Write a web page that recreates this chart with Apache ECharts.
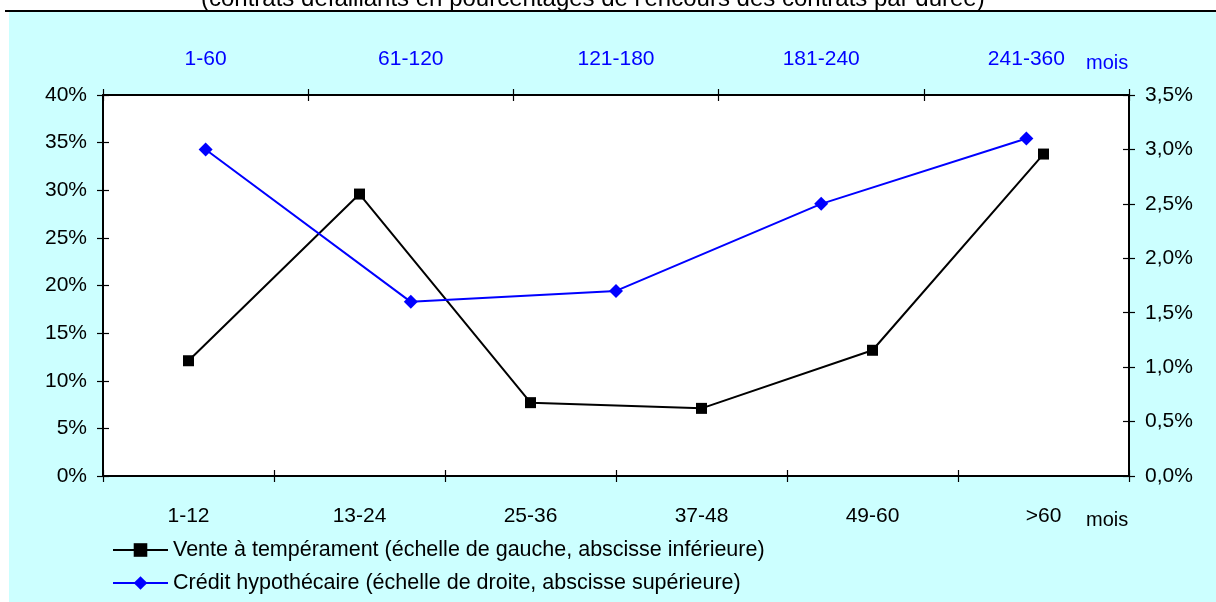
<!DOCTYPE html>
<html>
<head>
<meta charset="utf-8">
<script src="https://cdn.jsdelivr.net/npm/echarts@6/dist/echarts.min.js"></script>
<style>
  html, body { margin:0; padding:0; background:#fff; }
  #panel { position:absolute; left:9px; top:12px; width:1207px; height:590px; background:#CCFFFF; }
  #rule { position:absolute; left:5px; top:10px; width:1211px; height:2px; background:#000; }
  #chart { position:absolute; left:0; top:0; width:1216px; height:602px; }
</style>
</head>
<body>
<div id="panel"></div>
<div id="rule"></div>
<div id="chart"></div>
<script>
// ---- data ----
const titleText = "(contrats défaillants en pourcentages de l'encours des contrats par durée)";
const categoriesBottom = ['1-12', '13-24', '25-36', '37-48', '49-60', '>60'];
const categoriesTop = ['1-60', '61-120', '121-180', '181-240', '241-360'];
const venteName = 'Vente à tempérament (échelle de gauche, abscisse inférieure)';
const venteValues = [12.1, 29.6, 7.7, 7.1, 13.2, 33.8];
const creditName = 'Crédit hypothécaire (échelle de droite, abscisse supérieure)';
const creditValues = [3.0, 1.6, 1.7, 2.5, 3.1];
const axisUnit = 'mois';

const FONT = "'Liberation Sans', Arial, sans-serif";
const chart = echarts.init(document.getElementById('chart'), null, { renderer: 'canvas' });

const gridBox = { left: 103, right: 87, top: 95, bottom: 126 };
const tickStyle = { color: '#000', width: 1.2 };

function catAxis(gridIndex, data, position, inside, show, labelColor, margin) {
  return {
    type: 'category', gridIndex: gridIndex, data: data, position: position, boundaryGap: true,
    axisLine: { show: show, onZero: false, lineStyle: { color: '#000', width: 2 } },
    axisTick: { show: true, inside: inside, length: 6, lineStyle: tickStyle },
    axisLabel: { show: show, color: labelColor, fontSize: 21, fontFamily: FONT, margin: margin, interval: 0 },
    splitLine: { show: false }
  };
}
function valAxis(gridIndex, position, max, interval, inside, show, fmt) {
  return {
    type: 'value', gridIndex: gridIndex, position: position, min: 0, max: max, interval: interval,
    axisLine: { show: show, onZero: false, lineStyle: { color: '#000', width: 2 } },
    axisTick: { show: true, inside: inside, length: 6, lineStyle: tickStyle },
    axisLabel: { show: show, color: '#000', fontSize: 21, fontFamily: FONT, margin: 16, formatter: fmt },
    splitLine: { show: false }
  };
}
function legendFor(name, top) {
  return {
    orient: 'horizontal', left: 112, top: top, padding: 0,
    itemWidth: 55, itemHeight: 17,
    textStyle: { fontSize: 21.5, color: '#000', fontFamily: FONT },
    data: [name]
  };
}

const option = {
  backgroundColor: 'transparent',
  animation: false,
  title: {
    text: titleText, left: 196, top: -18,
    textStyle: { fontSize: 24, fontWeight: 'normal', color: '#000', fontFamily: FONT }
  },
  grid: [
    Object.assign({ show: true, backgroundColor: '#fff', borderWidth: 0 }, gridBox),
    Object.assign({ show: false }, gridBox)
  ],
  legend: [legendFor(venteName, 539), legendFor(creditName, 572)],
  xAxis: [
    catAxis(0, categoriesBottom, 'bottom', false, true, '#000', 30),
    catAxis(0, categoriesTop, 'top', false, true, '#0000FF', 25),
    catAxis(1, categoriesBottom, 'bottom', true, false, '#000', 30),
    catAxis(1, categoriesTop, 'top', true, false, '#0000FF', 25)
  ],
  yAxis: [
    valAxis(0, 'left', 40, 5, false, true, '{value}%'),
    valAxis(0, 'right', 3.5, 0.5, false, true, function (v) { return v.toFixed(1).replace('.', ',') + '%'; }),
    valAxis(1, 'left', 40, 5, true, false),
    valAxis(1, 'right', 3.5, 0.5, true, false)
  ],
  graphic: [
    { type: 'text', left: 1086, top: 53, style: { text: axisUnit, fill: '#0000FF', fontSize: 20, fontFamily: FONT } },
    { type: 'text', left: 1086, top: 510, style: { text: axisUnit, fill: '#000', fontSize: 20, fontFamily: FONT } }
  ],
  series: [
    {
      name: venteName, type: 'line', xAxisIndex: 0, yAxisIndex: 0, data: venteValues,
      symbol: 'rect', symbolSize: 11, showAllSymbol: true,
      itemStyle: { color: '#000' }, lineStyle: { color: '#000', width: 2 }, z: 3
    },
    {
      name: creditName, type: 'line', xAxisIndex: 1, yAxisIndex: 1, data: creditValues,
      symbol: 'diamond', symbolSize: 14, showAllSymbol: true,
      itemStyle: { color: '#0000FF' }, lineStyle: { color: '#0000FF', width: 2 }, z: 4
    }
  ]
};
chart.setOption(option);
</script>
</body>
</html>
